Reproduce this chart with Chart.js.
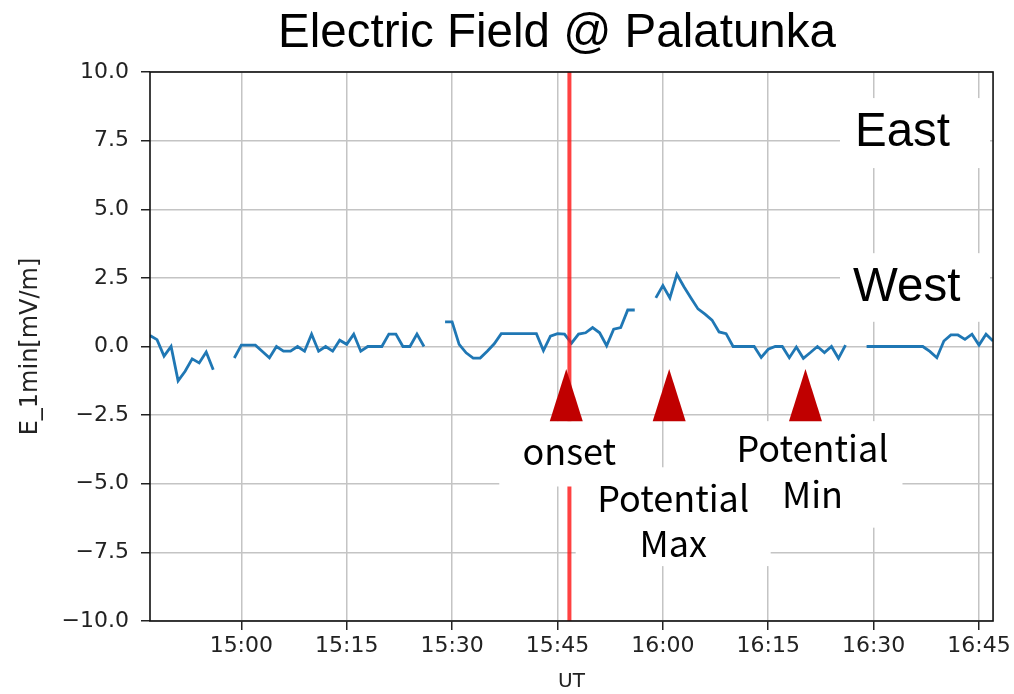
<!DOCTYPE html>
<html>
<head>
<meta charset="utf-8">
<script src="https://cdn.jsdelivr.net/npm/chart.js@4.4.1/dist/chart.umd.min.js"></script>
<style>
  html, body { margin: 0; padding: 0; background: #fff; }
  #wrap { width: 1014px; height: 694px; }
</style>
</head>
<body>
<div id="wrap"><canvas id="c" width="1014" height="694"></canvas></div>
<script>
// 1-minute electric field samples (mV/m), first sample at 14:47 UT; null = no data
const startMinute = 887;
const endMinute = 1007;
const fieldValues = [
  0.4, 0.25, -0.35, 0.0, -1.25, -0.9, -0.45, -0.6, -0.2, -0.85,
  null, null,
  -0.42, 0.05, 0.05, 0.05, -0.18, -0.41, 0.0, -0.17, -0.17, 0.0,
  -0.17, 0.45, -0.17, 0.0, -0.17, 0.23, 0.08, 0.45, -0.17, 0.0,
  0.0, 0.0, 0.45, 0.45, 0.0, 0.0, 0.45, 0.0,
  null, null,
  0.9, 0.9, 0.08, -0.23, -0.42, -0.42, -0.17, 0.1, 0.47, 0.47,
  0.47, 0.47, 0.47, 0.47, -0.15, 0.38, 0.47, 0.45, 0.12, 0.45,
  0.5, 0.69, 0.5, 0.03, 0.63, 0.69, 1.33, 1.33,
  null, null,
  1.77, 2.22, 1.77, 2.63, 2.18, 1.77, 1.37, 1.18, 0.96, 0.53,
  0.47, 0.0, 0.0, 0.0, 0.0, -0.4, -0.1, 0.0, 0.0, -0.41,
  -0.02, -0.43, -0.22, 0.0, -0.22, 0.0, -0.43, 0.05,
  null, null,
  0.0, 0.0, 0.0, 0.0, 0.0, 0.0, 0.0, 0.0, 0.0, -0.18,
  -0.41, 0.2, 0.42, 0.42, 0.26, 0.45, 0.05, 0.45, 0.2
];

const xTickMinutes = [900, 915, 930, 945, 960, 975, 990, 1005];
const yTickValues = [-10, -7.5, -5, -2.5, 0, 2.5, 5, 7.5, 10];

// substorm onset time and event markers (minutes of day, UT)
const onsetMinute = 946.7;
const markerMinutes = [946.25, 960.9, 980.3];
const markerLabels = [['onset'], ['Potential', 'Max'], ['Potential', 'Min']];

const titleText = 'Electric Field @ Palatunka';
const sideLabels = ['East', 'West'];

const points = fieldValues.map((v, i) => ({ x: startMinute + i, y: v }));

function hhmm(m) {
  const h = Math.floor(m / 60), mm = Math.round(m % 60);
  return String(h).padStart(2, '0') + ':' + String(mm).padStart(2, '0');
}

const TICK_FONT = { family: 'DejaVu Sans', size: 22 };
const NOTE_FONT = '36px "Noto Sans CJK JP"';
const BIG_FONT = '47.5px "Liberation Sans"';

// Layout of the label boxes below each marker (pixels relative to marker x, values on y axis)
const noteBoxes = [
  { dx: 3,  w: 140, top: -2.72, bottom: -5.1, lines: [-4.32] },
  { dx: 4,  w: 195, top: -4.4,  bottom: -8.0, lines: [-6.03, -7.67] },
  { dx: 7,  w: 180, top: -2.72, bottom: -6.6, lines: [-4.2, -5.88] }
];

const overlay = {
  id: 'overlay',
  afterDatasetsDraw(chart) {
    const { ctx, chartArea: a, scales: { x } } = chart;
    ctx.save();
    const xo = x.getPixelForValue(onsetMinute);
    ctx.strokeStyle = 'rgba(255,25,25,0.82)';
    ctx.lineWidth = 4;
    ctx.beginPath();
    ctx.moveTo(xo, a.top);
    ctx.lineTo(xo, a.bottom);
    ctx.stroke();
    ctx.strokeStyle = '#111';
    ctx.lineWidth = 1.6;
    ctx.strokeRect(a.left, a.top, a.right - a.left, a.bottom - a.top);
    ctx.restore();
  },
  afterDraw(chart) {
    const { ctx, scales: { x, y } } = chart;
    ctx.save();
    // white backing boxes for the East / West labels
    ctx.fillStyle = '#fff';
    ctx.fillRect(840, y.getPixelForValue(9.05), 150, y.getPixelForValue(6.5) - y.getPixelForValue(9.05));
    ctx.fillRect(840, y.getPixelForValue(3.4), 150, y.getPixelForValue(0.9) - y.getPixelForValue(3.4));

    // label boxes and text
    markerMinutes.forEach((m, i) => {
      const b = noteBoxes[i];
      const cx = x.getPixelForValue(m) + b.dx;
      const yt = y.getPixelForValue(b.top), yb = y.getPixelForValue(b.bottom);
      ctx.fillStyle = '#fff';
      ctx.fillRect(cx - b.w / 2, yt, b.w, yb - yt);
    });
    markerMinutes.forEach((m, i) => {
      const b = noteBoxes[i];
      const cx = x.getPixelForValue(m) + b.dx;
      ctx.fillStyle = '#000';
      ctx.font = NOTE_FONT;
      ctx.textAlign = 'center';
      ctx.textBaseline = 'alphabetic';
      markerLabels[i].forEach((t, j) => ctx.fillText(t, cx, y.getPixelForValue(b.lines[j])));
    });

    // triangles marking the events
    ctx.fillStyle = '#c00000';
    markerMinutes.forEach(m => {
      const px = x.getPixelForValue(m);
      const tip = y.getPixelForValue(-0.82), base = y.getPixelForValue(-2.72);
      ctx.beginPath();
      ctx.moveTo(px, tip);
      ctx.lineTo(px + 16.5, base);
      ctx.lineTo(px - 16.5, base);
      ctx.closePath();
      ctx.fill();
    });

    // title and direction labels
    ctx.fillStyle = '#000';
    ctx.font = BIG_FONT;
    ctx.textAlign = 'center';
    ctx.textBaseline = 'alphabetic';
    ctx.fillText(titleText, 557, 47);
    ctx.textAlign = 'left';
    ctx.fillText(sideLabels[0], 855, y.getPixelForValue(7.3));
    ctx.fillText(sideLabels[1], 853, y.getPixelForValue(1.66));
    ctx.restore();
  }
};

new Chart(document.getElementById('c'), {
  type: 'line',
  data: {
    datasets: [{
      data: points,
      borderColor: '#1f77b4',
      borderWidth: 2.8,
      pointRadius: 0,
      spanGaps: false,
      tension: 0,
      fill: false
    }]
  },
  options: {
    responsive: false,
    animation: false,
    devicePixelRatio: 1,
    layout: { padding: { top: 72, right: 18, left: 0, bottom: 0 } },
    plugins: { legend: { display: false }, tooltip: { enabled: false }, title: { display: false } },
    scales: {
      x: {
        type: 'linear',
        min: startMinute,
        max: endMinute,
        afterBuildTicks: s => { s.ticks = xTickMinutes.map(v => ({ value: v })); },
        afterFit: s => { s.height = 73; },
        ticks: { callback: v => hhmm(v), font: TICK_FONT, color: '#222', padding: 3, maxRotation: 0, autoSkip: false },
        grid: { color: '#c4c4c4', lineWidth: 1.5, tickLength: 9, tickColor: '#222', tickWidth: 1.5 },
        border: { display: false },
        title: { display: true, text: 'UT', font: { family: 'DejaVu Sans', size: 20 }, color: '#222', padding: { top: 0, bottom: 0 } }
      },
      y: {
        type: 'linear',
        min: -10,
        max: 10,
        afterBuildTicks: s => { s.ticks = yTickValues.map(v => ({ value: v })); },
        afterFit: s => { s.width = 150; },
        ticks: { callback: v => v.toFixed(1).replace('-', '\u2212'), font: TICK_FONT, color: '#222', padding: 12 },
        grid: { color: '#c4c4c4', lineWidth: 1.5, tickLength: 9, tickColor: '#222', tickWidth: 1.5 },
        border: { display: false },
        title: { display: true, text: 'E_1min[mV/m]', font: { family: 'DejaVu Sans', size: 24 }, color: '#222', padding: { top: 16, bottom: 0 } }
      }
    }
  },
  plugins: [overlay]
});
</script>
</body>
</html>
